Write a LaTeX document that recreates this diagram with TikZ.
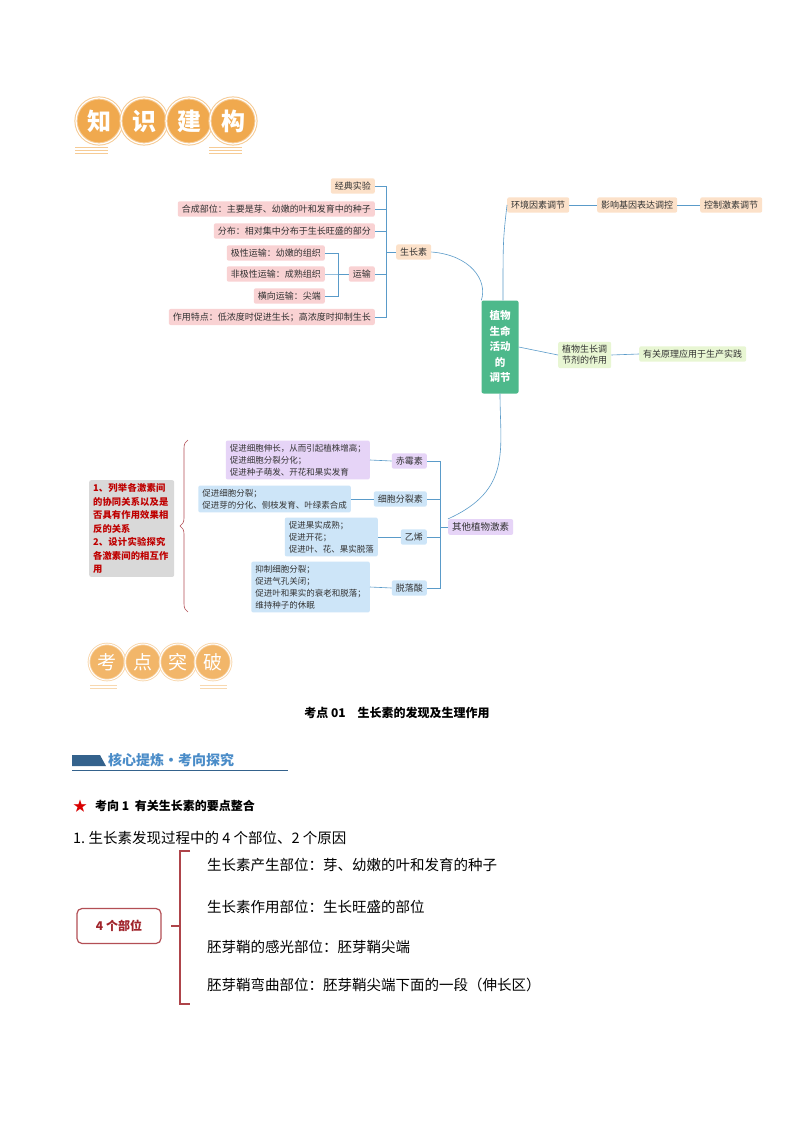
\documentclass[tikz,border=0pt]{standalone}
\usepackage{fontspec}
\setmainfont{Noto Sans CJK SC}
\XeTeXlinebreaklocale "zh"
\XeTeXlinebreakskip = 0pt plus 1pt
\usetikzlibrary{calc,decorations.pathreplacing,shapes.geometric}
\definecolor{peach}{HTML}{FCE1C9}
\definecolor{pinkb}{HTML}{F9D2D3}
\definecolor{cgreen}{HTML}{4DB98B}
\definecolor{lgreen}{HTML}{E8F6D3}
\definecolor{lav}{HTML}{E6D4F7}
\definecolor{lblue}{HTML}{CDE5F8}
\definecolor{lineb}{HTML}{5A9BC9}
\definecolor{orng}{HTML}{F0A94E}
\definecolor{dred}{HTML}{A0232A}
\definecolor{tblue}{HTML}{4A8CC8}
\tikzset{
 bx/.style={rounded corners=2pt,inner xsep=4pt,inner ysep=3.5pt,font=\fontsize{9}{11}\selectfont,text=black!80,align=left},
 pk/.style={bx,fill=pinkb},
 pc/.style={bx,fill=peach},
 lv/.style={bx,fill=lav},
 lb/.style={bx,fill=lblue},
 lg/.style={bx,fill=lgreen},
 con/.style={draw=lineb,line width=0.6pt},
 circ/.style={circle,fill=orng,draw=orng!60,double=white,double distance=1.2pt,line width=1pt,minimum size=46pt,inner sep=0pt,text=white,font=\fontsize{24}{24}\selectfont\bfseries},
 circb/.style={circle,fill=orng!85,draw=orng!50,double=white,double distance=1pt,line width=0.8pt,minimum size=36pt,inner sep=0pt,text=white,font=\fontsize{19}{19}\selectfont},
 body/.style={anchor=west,font=\fontsize{14.5}{16}\selectfont,inner sep=0pt}
}
\begin{document}
\begin{tikzpicture}[x=1pt,y=-1pt]
\useasboundingbox[fill=white] (0,0) rectangle (794,1123);
% title 1
\foreach \t/\x [count=\i] in {知/99,识/144,建/189,构/233}{\node[circ] (ta\i) at (\x,121) {\t};}
\foreach \yy in {147,150,153}{\draw[orng!60,line width=0.8pt] (75,\yy)--(108,\yy); \draw[orng!60,line width=0.8pt] (209,\yy)--(242,\yy);}
% central
\node[rounded corners=2pt,fill=cgreen,text=white,font=\fontsize{10.5}{15.5}\selectfont\bfseries,minimum width=37pt,minimum height=93pt,align=center] (c) at (500,347) {植物\\生命\\活动\\的\\调节};
% left auxin tree
\node[pc,anchor=east] (jd) at (375,186) {经典实验};
\node[pk,anchor=east] (hc) at (375,209) {合成部位：主要是芽、幼嫩的叶和发育中的种子};
\node[pk,anchor=east] (fb) at (375,231) {分布：相对集中分布于生长旺盛的部分};
\node[pk,anchor=east] (ys) at (375,274) {运输};
\node[pk,anchor=east] (jx) at (325,253) {极性运输：幼嫩的组织};
\node[pk,anchor=east] (fj) at (325,274) {非极性运输：成熟组织};
\node[pk,anchor=east] (hx) at (325,296) {横向运输：尖端};
\node[pk,anchor=east] (tz) at (375,317) {作用特点：低浓度时促进生长；高浓度时抑制生长};
\node[pc,anchor=west] (sz) at (396,252) {生长素};
\foreach \n in {jd,hc,fb,ys,tz}{\draw[con] (\n.east) -| ($(sz.west)+(-10,0)$) -- (sz.west);}
\foreach \n in {jx,fj,hx}{\draw[con] (\n.east) -| ($(ys.west)+(-10,0)$) -- (ys.west);}
\draw[con] (sz.east) .. controls (470,255) and (488,280) .. (c.north west);
% right top
\node[pc,anchor=west] (hj) at (507,205) {环境因素调节};
\node[pc,anchor=west] (yx) at (597,205) {影响基因表达调控};
\node[pc,anchor=west] (kz) at (700,205) {控制激素调节};
\draw[con] ($(c.north)+(3,0)$) .. controls (503,240) .. (hj.west);
\draw[con] (hj.east)--(yx.west); \draw[con] (yx.east)--(kz.west);
\node[lg,align=center,anchor=west] (tj) at (558,355) {植物生长调\\节剂的作用};
\node[lg,anchor=west] (yy) at (639,354) {有关原理应用于生产实践};
\draw[con] (c.east)--(tj.west); \draw[con] (tj.east)--(yy.west);
% other hormones
\node[lv,anchor=west,font=\fontsize{9.5}{11}\selectfont] (qt) at (448,527) {其他植物激素};
\draw[con] ($(c.south)+(0,0)$) .. controls (500,450) and (512,490) .. (qt.north west);
\node[lv,anchor=east] (cms) at (427,461) {赤霉素};
\node[lb,anchor=east] (xb) at (427,499) {细胞分裂素};
\node[lb,anchor=east] (yx2) at (427,537) {乙烯};
\node[lb,anchor=east] (tl) at (427,588) {脱落酸};
\foreach \n in {cms,xb,yx2,tl}{\draw[con] (\n.east) -| ($(qt.west)+(-8,0)$) -- (qt.west);}
\node[lv,anchor=east,font=\fontsize{8.5}{12}\selectfont] (t1) at (370,460) {促进细胞伸长，从而引起植株增高；\\促进细胞分裂分化；\\促进种子萌发、开花和果实发育};
\node[lb,anchor=east,font=\fontsize{8.5}{12}\selectfont] (t2) at (351,499) {促进细胞分裂；\\促进芽的分化、侧枝发育、叶绿素合成};
\node[lb,anchor=east,font=\fontsize{8.5}{12}\selectfont] (t3) at (378,537) {促进果实成熟；\\促进开花；\\促进叶、花、果实脱落};
\node[lb,anchor=east,font=\fontsize{8.5}{12}\selectfont] (t4) at (370,587) {抑制细胞分裂；\\促进气孔关闭；\\促进叶和果实的衰老和脱落；\\维持种子的休眠};
\draw[con] (t1.east)--(cms.west); \draw[con] (t2.east)--(xb.west); \draw[con] (t3.east)--(yx2.west); \draw[con] (t4.east)--(tl.west);
\node[rounded corners=2pt,fill=black!15,text=red!75!black,font=\fontsize{9.3}{13.5}\selectfont\bfseries,align=left,text width=77pt,minimum height=93pt,inner xsep=4pt,anchor=north west] (gb) at (89,480) {1、列举各激素间的协同关系以及是否具有作用效果相反的关系\\2、设计实验探究各激素间的相互作用};
\draw[dred!80,line width=0.6pt,decorate,decoration={brace,amplitude=8pt}] (188,612) -- (188,440);
% title 2
\foreach \t/\x [count=\i] in {考/107,点/143,突/178,破/213}{\node[circb] (tb\i) at (\x,662) {\t};}
\foreach \yy in {685,688}{\draw[orng!45,line width=0.8pt] (90,\yy)--(117,\yy); \draw[orng!45,line width=0.8pt] (200,\yy)--(227,\yy);}
\node[font=\fontsize{12}{13}\selectfont\bfseries] (h1) at (397,713) {考点 01\quad 生长素的发现及生理作用};
\fill[tblue!70!black] (72,755) -- (100,755) -- (106,766) -- (72,766) -- cycle;
\node[anchor=west,text=tblue,font=\fontsize{14}{15}\selectfont\bfseries,inner sep=0pt] (hx2) at (108,760) {核心提炼·考向探究};
\draw[tblue!70!black,line width=0.7pt] (72,770) -- (288,770);
\node[text=red!85!black,font=\fontsize{14}{14}\selectfont,inner sep=0pt] (star) at (80,806) {★};
\node[anchor=west,font=\fontsize{12}{13}\selectfont\bfseries,inner sep=0pt] (kx) at (95,806) {考向 1\ \ 有关生长素的要点整合};
\node[body] (l1) at (73,838) {1.\ 生长素发现过程中的 4 个部位、2 个原因};
\node[draw=dred!80,line width=1.2pt,rounded corners=5pt,minimum width=84pt,minimum height=35pt,text=dred,font=\fontsize{12}{13}\selectfont\bfseries] (bw) at (119,926) {4 个部位};
\draw[dred!85,line width=1.5pt] (190,851) -- (180,851) -- (180,1004) -- (190,1004);
\draw[dred!85,line width=1.5pt] (171,926) -- (180,926);
\node[body] (p1) at (207,865) {生长素产生部位：芽、幼嫩的叶和发育的种子};
\node[body] (p2) at (207,907) {生长素作用部位：生长旺盛的部位};
\node[body] (p3) at (207,947) {胚芽鞘的感光部位：胚芽鞘尖端};
\node[body] (p4) at (207,985) {胚芽鞘弯曲部位：胚芽鞘尖端下面的一段（伸长区）};
\end{tikzpicture}
\end{document}
